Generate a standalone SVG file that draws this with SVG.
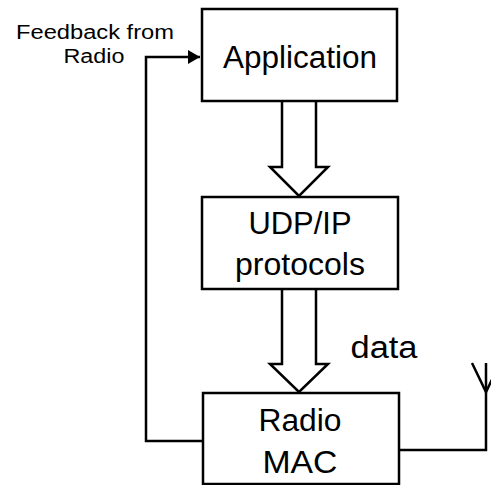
<svg xmlns="http://www.w3.org/2000/svg" width="491" height="485" viewBox="0 0 491 485">
<style>
.box{fill:#fff;stroke:#000;stroke-width:2.5}
.big{font-family:"Liberation Sans",Arial,sans-serif;font-size:31px;fill:#000;text-anchor:middle}
.small{font-family:"Liberation Sans",Arial,sans-serif;font-size:20px;fill:#000;text-anchor:middle}
.ln{fill:none;stroke:#000;stroke-width:2.5}
.ha{fill:#fff;stroke:#000;stroke-width:2.5;stroke-linejoin:miter}
</style>
<defs>
<marker id="ah" markerWidth="12" markerHeight="14" refX="12" refY="7" orient="auto" markerUnits="userSpaceOnUse" viewBox="0 0 12 14">
<path d="M0,0 L12,7 L0,14 z" fill="#000"/>
</marker>
</defs>
<rect width="491" height="485" fill="#fff"/>
<g id="connectors">
<path class="ha" d="M282,101 V167 H270 L299,196 L328,167 H316 V101"/>
<path class="ha" d="M282,289 V364 H270 L299,392 L328,364 H316 V289"/>
<path class="ln" d="M203,441 H146 V57 H200" marker-end="url(#ah)"/>
<path class="ln" d="M399,450 H486 V363"/>
<path class="ln" d="M472,363 L486,392 L500,363"/>
</g>
<g id="application">
<rect class="box" x="202" y="9" width="195" height="92"/>
<text class="big" x="300" y="68" textLength="154" lengthAdjust="spacingAndGlyphs">Application</text>
</g>
<g id="udpip">
<rect class="box" x="202" y="197" width="196" height="92"/>
<text class="big" x="300" y="234" textLength="103" lengthAdjust="spacingAndGlyphs">UDP/IP</text>
<text class="big" x="300" y="275" textLength="130" lengthAdjust="spacingAndGlyphs">protocols</text>
</g>
<g id="radiomac">
<rect class="box" x="203" y="393" width="196" height="91"/>
<text class="big" x="300" y="431" textLength="83" lengthAdjust="spacingAndGlyphs">Radio</text>
<text class="big" x="300" y="473" textLength="75" lengthAdjust="spacingAndGlyphs">MAC</text>
</g>
<g id="labels">
<text class="small" x="95" y="39" textLength="158" lengthAdjust="spacingAndGlyphs">Feedback from</text>
<text class="small" x="94" y="63" textLength="61" lengthAdjust="spacingAndGlyphs">Radio</text>
<text class="big" x="384" y="358" textLength="67" lengthAdjust="spacingAndGlyphs">data</text>
</g>
</svg>
